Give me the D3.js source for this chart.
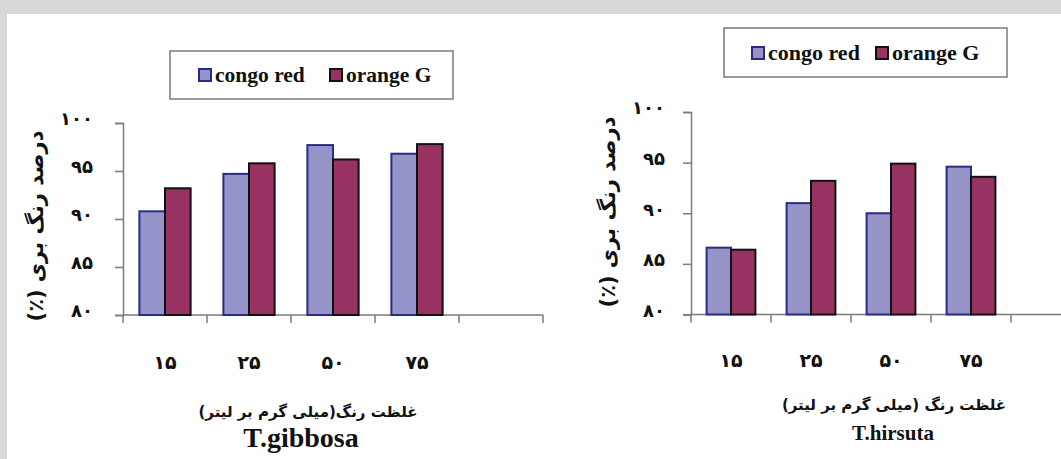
<!DOCTYPE html>
<html>
<head>
<meta charset="utf-8">
<script src="https://cdn.jsdelivr.net/npm/d3@7"></script>
<style>
  html, body { margin: 0; padding: 0; background: #d7d8da; }
  svg { display: block; }
</style>
</head>
<body>
<svg id="chart" width="1061" height="459"></svg>
<script>
// Dye concentrations (mg/L) and their Persian tick labels; last slot is an empty band
const categories = ["15", "25", "50", "75", ""];
const xTickLabels = ["۱۵", "۲۵", "۵۰", "۷۵", ""];
const yTicks = [80, 85, 90, 95, 100];
const yTickLabels = ["۸۰", "۸۵", "۹۰", "۹۵", "۱۰۰"];
const seriesNames = ["congo red", "orange G"];

// Decolorization (%) by T.gibbosa
const gibbosaCongo = [90.8, 94.7, 97.7, 96.8];
const gibbosaOrange = [93.2, 95.8, 96.2, 97.8];
// Decolorization (%) by T.hirsuta
const hirsutaCongo = [86.6, 91.0, 90.0, 94.6];
const hirsutaOrange = [86.4, 93.2, 94.9, 93.6];

const yTitle = "درصد رنگ بری (٪)";

const colors = {
  congo: { fill: "#9594c8", stroke: "#2b2b86" },
  orange: { fill: "#983262", stroke: "#111" }
};

const SERIF = '"Liberation Serif"';
const FA = '"DejaVu Sans"';

const svg = d3.select("#chart");
svg.append("rect").attr("width", 1061).attr("height", 459).attr("fill", "#d7d8da");
svg.append("rect").attr("x", 7).attr("y", 14).attr("width", 1054).attr("height", 445).attr("fill", "#fff");

function styleText(sel, family, size) {
  return sel.style("font-family", family).style("font-weight", "bold")
    .style("font-size", size + "px").attr("fill", "#111");
}

function drawPanel(opt) {
  const g = svg.append("g");
  const x = d3.scaleBand().domain(categories).range(opt.xRange).padding(0);
  const y = d3.scaleLinear().domain([80, 100]).range(opt.yRange);
  const bw = x.bandwidth();
  const inner = d3.scaleBand().domain(["congo", "orange"]).range([bw * 0.195, bw * 0.805]).padding(0);
  const axisColor = "#7a7a7a";

  // y axis
  const yAxis = d3.axisLeft(y).tickValues(yTicks).tickSize(8).tickPadding(opt.yPad)
    .tickFormat((d, i) => yTickLabels[i]);
  const ya = g.append("g").attr("transform", `translate(${opt.xRange[0]},0)`).call(yAxis);
  ya.select(".domain").attr("stroke", axisColor).attr("stroke-width", 1.5);
  ya.selectAll(".tick line").attr("stroke", axisColor).attr("stroke-width", 1.5);
  styleText(ya.selectAll(".tick text"), FA, opt.yFont).attr("dy", "0.1em");

  // x axis: baseline with ticks on the band boundaries
  const y0 = y(80);
  const bounds = categories.map(c => x(c)).concat([opt.xRange[1]]);
  g.append("line").attr("x1", opt.xRange[0]).attr("x2", Math.min(opt.xRange[1], 1061))
    .attr("y1", y0).attr("y2", y0).attr("stroke", axisColor).attr("stroke-width", 1.5);
  g.selectAll(".xtick").data(bounds).join("line").attr("class", "xtick")
    .attr("x1", d => d).attr("x2", d => d).attr("y1", y0).attr("y2", y0 + 8)
    .attr("stroke", axisColor).attr("stroke-width", 1.5);
  styleText(g.selectAll(".xlab").data(categories).join("text").attr("class", "xlab"), FA, opt.xFont)
    .attr("x", d => x(d) + bw / 2).attr("y", opt.xLabY)
    .attr("text-anchor", "middle")
    .text((d, i) => xTickLabels[i]);

  // bars
  const rows = opt.congo.map((v, i) => ({ cat: categories[i], congo: v, orange: opt.orange[i] }));
  const grp = g.selectAll(".grp").data(rows).join("g").attr("class", "grp")
    .attr("transform", d => `translate(${x(d.cat)},0)`);
  grp.selectAll("rect").data(d => ["congo", "orange"].map(k => ({ k, v: d[k] }))).join("rect")
    .attr("x", d => inner(d.k)).attr("width", inner.bandwidth())
    .attr("y", d => y(d.v)).attr("height", d => y0 - y(d.v))
    .attr("fill", d => colors[d.k].fill).attr("stroke", d => colors[d.k].stroke).attr("stroke-width", 2);

  // y title
  styleText(g.append("text"), FA, opt.yTitleFont)
    .attr("transform", `translate(${opt.yTitle[0]},${opt.yTitle[1]}) rotate(-90)`)
    .attr("text-anchor", "middle").attr("dominant-baseline", "central")
    .attr("direction", "rtl").text(yTitle);

  // x title and species name
  styleText(g.append("text"), FA, opt.xTitleFont)
    .attr("x", opt.xTitle[0]).attr("y", opt.xTitle[1])
    .attr("text-anchor", "middle").attr("direction", "rtl").text(opt.xTitleText);
  styleText(g.append("text"), SERIF, opt.speciesFont)
    .attr("x", opt.species[0]).attr("y", opt.species[1])
    .attr("text-anchor", "middle").text(opt.speciesText);

  // legend
  const L = opt.legend;
  g.append("rect").attr("x", L.x).attr("y", L.y).attr("width", L.w).attr("height", L.h)
    .attr("fill", "#fff").attr("stroke", "#7a7a7a").attr("stroke-width", 1.5);
  const items = [
    { k: "congo", name: seriesNames[0], x: L.sw[0] },
    { k: "orange", name: seriesNames[1], x: L.sw[1] }
  ];
  items.forEach(it => {
    g.append("rect").attr("x", it.x).attr("y", L.swY).attr("width", L.swS).attr("height", L.swS)
      .attr("fill", colors[it.k].fill).attr("stroke", colors[it.k].stroke).attr("stroke-width", 2);
    styleText(g.append("text"), SERIF, L.font)
      .attr("x", it.x + L.swS + 4).attr("y", L.textY).text(it.name);
  });
}

drawPanel({
  xRange: [123, 543], yRange: [315, 123],
  congo: gibbosaCongo, orange: gibbosaOrange,
  yPad: 22, yFont: 18, xFont: 19, xLabY: 369,
  yTitle: [36, 226], yTitleFont: 21,
  xTitle: [308, 417], xTitleFont: 15, xTitleText: "غلظت رنگ(میلی گرم بر لیتر)",
  species: [301, 447], speciesFont: 28, speciesText: "T.gibbosa",
  legend: { x: 170, y: 51, w: 283, h: 48, sw: [199, 330], swY: 69, swS: 12, textY: 82, font: 21.5 }
});

drawPanel({
  xRange: [691, 1091], yRange: [314.5, 112],
  congo: hirsutaCongo, orange: hirsutaOrange,
  yPad: 18, yFont: 18, xFont: 19, xLabY: 367,
  yTitle: [608, 212], yTitleFont: 21,
  xTitle: [894, 410], xTitleFont: 15, xTitleText: "غلظت رنگ (میلی گرم بر لیتر)",
  species: [893, 440], speciesFont: 21, speciesText: "T.hirsuta",
  legend: { x: 724, y: 28, w: 283, h: 49, sw: [752, 876], swY: 47, swS: 12, textY: 60, font: 22 }
});
</script>
</body>
</html>
